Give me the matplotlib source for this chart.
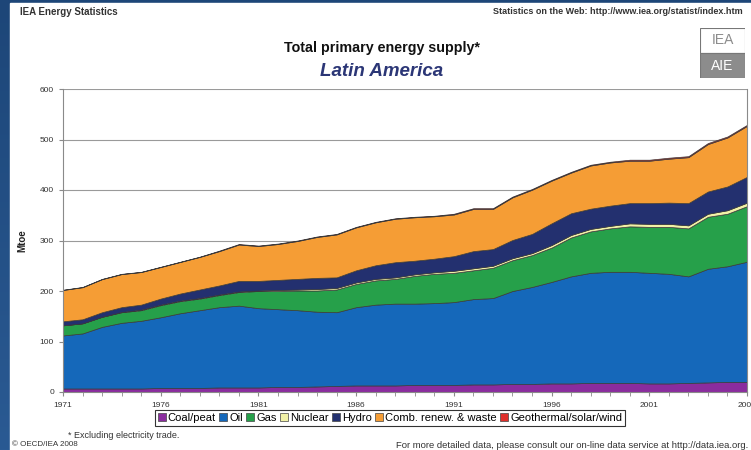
import numpy as np
import matplotlib
matplotlib.use('Agg')
import matplotlib.pyplot as plt
from matplotlib.patches import Rectangle, Patch

plt.rcParams['font.family'] = ['Liberation Sans', 'DejaVu Sans']

# Datos (Mtoe)
years = list(range(1971, 2007))
coal = [7, 7, 7, 7, 7, 8, 8, 8, 9, 9, 9, 10, 10, 11, 12, 13, 13, 13,
        14, 14, 14, 15, 15, 16, 16, 17, 17, 18, 18, 18, 17, 17, 18, 19, 20, 20]
oil = [105, 109, 122, 130, 134, 140, 148, 154, 159, 162, 157, 154, 152, 148, 146, 155, 160, 162,
       161, 162, 164, 169, 171, 184, 192, 201, 212, 218, 220, 220, 219, 217, 211, 225, 229, 238]
gas = [20, 20, 20, 21, 21, 24, 24, 23, 24, 27, 34, 36, 39, 42, 45, 46, 48, 49,
       55, 58, 58, 57, 60, 61, 63, 68, 77, 82, 86, 90, 91, 93, 95, 103, 104, 110]
nuclear = [0, 0, 0, 0.5, 1, 1, 1, 1, 1, 1, 1, 2, 2, 3, 3, 3, 3, 3,
           3, 3, 4, 4, 4, 4, 4, 5, 5, 5, 5, 6, 6, 6, 6, 6, 7, 7]
hydro = [8, 8, 9, 9.5, 10, 12, 14, 17, 18, 21, 19, 20, 21, 22, 21, 24, 27, 30,
         27, 27, 29, 34, 33, 36, 38, 43, 43, 40, 40, 40, 41, 42, 44, 44, 47, 51]
comb = [62, 63.5, 65.5, 65.5, 64.5, 62.5, 62.5, 64.5, 68, 72, 69, 71, 75, 81, 85, 85, 85, 86,
        86, 84, 82.5, 83.5, 79.5, 84.5, 87.5, 84.5, 80.5, 85.5, 85.5, 84, 84, 87, 91, 94, 97, 101]
geo = [0.5] * 8 + [1] * 12 + [1.5] * 9 + [2] * 7

labels = ['Coal/peat', 'Oil', 'Gas', 'Nuclear', 'Hydro', 'Comb. renew. & waste', 'Geothermal/solar/wind']
colores = ['#8a2c9e', '#1568ba', '#26a04a', '#f2f2a8', '#23306f', '#f59d35', '#e0302c']
year_ticks = list(range(1971, 2007, 5))
y_ticks = [0, 100, 200, 300, 400, 500, 600]

fig = plt.figure(figsize=(7.51, 4.5), dpi=100)

# fondo azul de la diapositiva
bg = fig.add_axes([0, 0, 1, 1], zorder=-10)
grad = np.linspace(0, 1, 256).reshape(-1, 1)
bg.imshow(grad, aspect='auto', cmap=matplotlib.colors.LinearSegmentedColormap.from_list(
    'b', ['#1d4678', '#2a5a93']), extent=[0, 1, 0, 1])
bg.add_patch(Rectangle((10 / 751, 0), 1, 1 - 3 / 450, color='white'))
bg.set_xlim(0, 1)
bg.set_ylim(0, 1)
bg.axis('off')

ax = fig.add_axes([63 / 751, 1 - 392 / 450, 684 / 751, 303 / 450])
ax.stackplot(years, coal, oil, gas, nuclear, hydro, comb, geo, colors=colores,
             edgecolor='#3a3a3a', linewidth=0.5)
ax.set_xlim(1971, 2006)
ax.set_ylim(0, 600)
ax.set_yticks(y_ticks)
ax.set_xticks(years, minor=True)
ax.set_xticks(year_ticks)
ax.set_xticklabels([str(y) for y in year_ticks])
ax.grid(True, axis='y', color='#9a9a9a', linewidth=0.8)
ax.set_axisbelow(True)
for s in ['left', 'bottom', 'right']:
    ax.spines[s].set_color('#8a8a8a')
ax.spines['top'].set_visible(False)
ax.tick_params(axis='both', labelsize=6, colors='#8a8a8a', labelcolor='#333333', length=3)
ax.tick_params(axis='x', which='minor', length=3, colors='#8a8a8a')
ax.tick_params(axis='x', pad=4)
ax.set_ylabel('Mtoe', fontsize=7, fontweight='bold', color='#222222', labelpad=9)

# textos
fig.text(20 / 751, 1 - 12 / 450, 'IEA Energy Statistics', fontsize=7, fontweight='bold',
         color='#333333', va='center')
fig.text(743 / 751, 1 - 12 / 450, 'Statistics on the Web: http://www.iea.org/statist/index.htm',
         fontsize=6.5, fontweight='bold', color='#333333', va='center', ha='right')
fig.text(382 / 751, 1 - 48 / 450, 'Total primary energy supply*', fontsize=10.3, fontweight='bold',
         color='#111111', ha='center', va='center')
fig.text(382 / 751, 1 - 72 / 450, 'Latin America', fontsize=13.5, fontweight='bold', style='italic',
         color='#2b3676', ha='center', va='center')
fig.text(68 / 751, 1 - 436 / 450, '* Excluding electricity trade.', fontsize=6.5, color='#333333',
         va='center')
fig.text(12 / 751, 1 - 445 / 450, '© OECD/IEA 2008', fontsize=5.8, color='#333333', va='center')
fig.text(748 / 751, 1 - 445 / 450,
         'For more detailed data, please consult our on-line data service at http://data.iea.org.',
         fontsize=6.8, color='#333333', va='center', ha='right')

# logo IEA/AIE aproximado
logo = fig.add_axes([700 / 751, 1 - 78 / 450, 45 / 751, 50 / 450])
logo.add_patch(Rectangle((0, 0.5), 1, 0.5, facecolor='white', edgecolor='#777777', linewidth=0.8))
logo.add_patch(Rectangle((0, 0), 1, 0.5, facecolor='#8c8c8c', edgecolor='#777777', linewidth=0.8))
logo.text(0.5, 0.75, 'IEA', fontsize=10, color='#8c8c8c', ha='center', va='center')
logo.text(0.5, 0.25, 'AIE', fontsize=10, color='white', ha='center', va='center')
logo.set_xlim(0, 1)
logo.set_ylim(0, 1)
logo.axis('off')

handles = [Patch(facecolor=c, edgecolor='#444444', linewidth=0.5) for c in colores]
leg = fig.legend(handles, labels, loc='center', bbox_to_anchor=(390 / 751, 1 - 418 / 450),
                 ncol=7, fontsize=8, frameon=True, fancybox=False, handlelength=0.7,
                 handleheight=0.7, handletextpad=0.2, columnspacing=0.3, borderpad=0.25,
                 borderaxespad=0)
leg.get_frame().set_edgecolor('black')
leg.get_frame().set_linewidth(0.8)

fig.savefig('out.png', dpi=100)
